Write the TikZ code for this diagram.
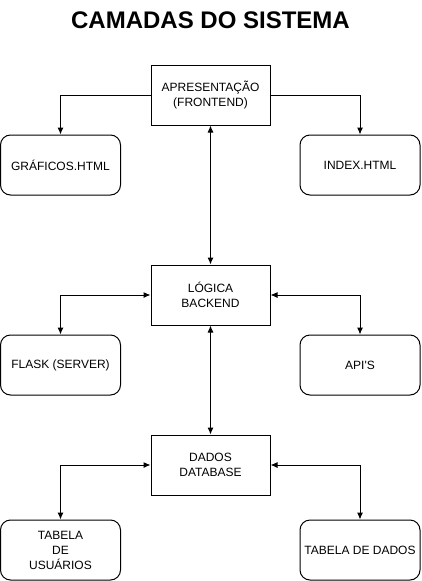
\documentclass[tikz,border=0pt]{standalone}
\usepackage{fontspec}
\setmainfont{Liberation Sans}
\usepackage{tikz}
\usetikzlibrary{arrows.meta}
\usetikzlibrary{positioning}
\tikzset{
layer box/.style = { rectangle, draw = black, fill = white, line width = 1pt, minimum width = 119pt, minimum height = 60pt, align = center, font = \fontsize{12}{15}\selectfont },
leaf box/.style = { rectangle, draw = black, fill = white, line width = 1pt, minimum width = 120pt, minimum height = 60pt, rounded corners = 10pt, align = center, font = \fontsize{12}{15}\selectfont },
link/.style = { line width = 1pt, -{Latex[length = 7pt, width = 6pt]} },
both link/.style = { line width = 1pt, {Latex[length = 7pt, width = 6pt]}-{Latex[length = 7pt, width = 6pt]} },
}
\begin{document}
\begin{tikzpicture}[x = 1pt, y = -1pt]
    \useasboundingbox (0, 0) rectangle (421, 581);
    \node[font = \fontsize{24}{28}\selectfont\bfseries] (title) at (210.5, 20) {CAMADAS DO SISTEMA};
    % camadas
    \node[layer box] (apres) at (210.5, 95) {APRESENTAÇÃO\\(FRONTEND)};
    \node[layer box] (logica) at (210.5, 295) {LÓGICA\\BACKEND};
    \node[layer box] (dados) at (210.5, 465) {DADOS\\DATABASE};
    % componentes
    \node[leaf box] (graficos) at (60.5, 165) {GRÁFICOS.HTML};
    \node[leaf box] (index) at (360, 165) {INDEX.HTML};
    \node[leaf box] (flask) at (60.5, 365) {FLASK (SERVER)};
    \node[leaf box] (apis) at (360, 365) {API\textquotesingle S};
    \node[leaf box] (usuarios) at (60.5, 550) {TABELA\\DE\\USUÁRIOS};
    \node[leaf box] (tabdados) at (360, 550) {TABELA DE DADOS};
    % ligacoes
    \draw[link] (apres.west) -| (graficos.north);
    \draw[link] (apres.east) -| (index.north);
    \draw[both link] (apres.south) -- (logica.north);
    \draw[both link] (logica.west) -| (flask.north);
    \draw[both link] (logica.east) -| (apis.north);
    \draw[both link] (logica.south) -- (dados.north);
    \draw[both link] (dados.west) -| (usuarios.north);
    \draw[both link] (dados.east) -| (tabdados.north);
  \end{tikzpicture}
\end{document}
